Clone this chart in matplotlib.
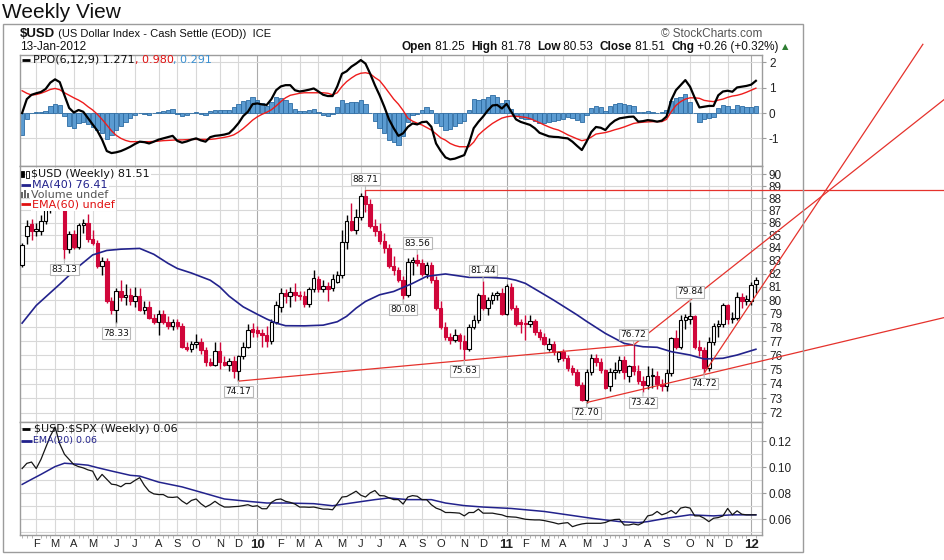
import numpy as np
import pandas as pd
import matplotlib
matplotlib.use("Agg")
import matplotlib.pyplot as plt
from matplotlib.patches import Rectangle
from matplotlib.lines import Line2D
from matplotlib.ticker import FixedLocator, FixedFormatter, NullLocator, NullFormatter

plt.rcParams['font.family'] = ['Liberation Sans', 'DejaVu Sans']

W, H = 945, 560

# weekly bars, dated by the Friday of each week
weeks = pd.date_range("2009-01-16", "2012-01-13", freq="W-FRI")

opens = [
    82.7, 84.9, 85.9, 85.3, 85.3, 86.1, 87.2, 87.9, 88.9, 87.6,
    83.9, 85.1, 84.1, 85.8, 86.0, 84.7, 84.4, 82.6, 83.0, 79.9,
    79.3, 80.7, 80.2, 80.4, 79.9, 80.3, 79.3, 79.5, 78.7, 78.4,
    79.0, 78.4, 78.1, 78.4, 78.1, 76.6, 76.45, 76.8, 76.95, 76.35,
    75.5, 75.3, 76.3, 75.5, 75.3, 75.6, 74.9, 75.9, 76.6, 77.85,
    77.8, 77.55, 77.4, 77.0, 78.4, 79.5, 80.5, 80.3, 80.6, 80.4,
    80.3, 79.7, 80.8, 81.6, 80.8, 81.1, 80.9, 81.4, 81.9, 84.5,
    86.1, 85.4, 86.5, 88.2, 87.5, 85.75, 85.35, 84.55, 84.0, 82.6,
    82.25, 81.5, 80.4, 82.9, 83.05, 82.8, 82.0, 82.7, 81.5, 79.4,
    78.05, 77.3, 77.05, 77.45, 77.0, 76.4, 78.0, 78.5, 80.4, 79.4,
    80.0, 80.4, 80.5, 79.0, 81.0, 79.4, 78.4, 78.3, 78.2, 78.45,
    77.65, 77.3, 76.45, 76.8, 75.7, 76.25, 75.77, 75.1, 74.83, 73.9,
    72.9, 74.8, 75.8, 75.5, 74.95, 73.8, 74.8, 74.95, 75.65, 74.5,
    75.2, 74.85, 74.15, 73.9, 74.5, 74.5, 74.0, 73.8, 74.7, 77.2,
    76.6, 78.5, 78.6, 78.8, 76.6, 76.35, 75.06, 76.95, 78.06, 78.2,
    79.66, 78.6, 78.7, 80.2, 79.9, 79.9, 81.25]
highs = [
    84.4, 86.2, 86.3, 86.0, 86.6, 87.6, 88.2, 89.6, 89.3, 87.9,
    85.3, 85.4, 86.0, 86.3, 86.7, 85.4, 84.6, 83.3, 83.2, 80.2,
    80.9, 81.5, 81.2, 80.9, 81.0, 80.9, 79.9, 79.9, 79.0, 79.3,
    79.3, 78.8, 78.6, 78.6, 78.3, 76.9, 77.0, 77.5, 77.2, 76.6,
    75.8, 76.9, 76.9, 75.9, 75.8, 75.9, 76.0, 76.9, 78.2, 78.3,
    78.1, 77.9, 78.1, 78.6, 79.9, 80.9, 80.8, 81.0, 81.3, 80.7,
    80.7, 81.0, 82.3, 81.8, 81.5, 81.4, 82.0, 82.2, 85.4, 86.6,
    87.6, 87.1, 88.4, 88.71, 87.9, 86.3, 86.0, 85.2, 84.3, 83.4,
    82.5, 81.8, 83.2, 83.3, 83.56, 83.1, 82.9, 82.9, 81.8, 79.9,
    78.4, 77.6, 77.9, 77.6, 77.4, 78.2, 78.9, 80.5, 81.44, 80.2,
    80.6, 80.7, 80.9, 81.2, 81.3, 79.6, 78.6, 78.9, 78.9, 78.6,
    77.9, 77.6, 77.2, 77.0, 76.3, 76.4, 76.0, 75.3, 75.0, 74.1,
    75.0, 76.1, 76.1, 75.8, 75.0, 75.1, 75.5, 75.9, 75.9, 75.3,
    76.72, 75.3, 74.5, 75.2, 75.1, 74.9, 74.3, 75.0, 77.3, 77.8,
    78.9, 78.95, 79.84, 78.9, 77.1, 76.6, 77.3, 78.3, 78.5, 79.8,
    79.7, 79.1, 80.6, 80.5, 80.4, 81.4, 81.78]
lows = [
    82.5, 84.3, 84.6, 84.9, 85.0, 85.9, 86.8, 87.6, 87.2, 83.13,
    83.6, 83.9, 83.9, 85.2, 84.5, 84.2, 82.4, 81.9, 79.8, 79.0,
    78.33, 79.9, 79.6, 79.6, 79.5, 79.2, 79.0, 78.6, 78.2, 77.4,
    78.2, 77.9, 77.8, 77.9, 76.5, 76.3, 76.2, 76.5, 76.1, 75.2,
    75.2, 75.2, 75.0, 75.2, 74.9, 74.4, 74.17, 75.7, 76.5, 77.3,
    77.3, 76.6, 76.6, 76.8, 78.2, 79.1, 79.8, 79.5, 79.9, 80.0,
    79.5, 79.5, 80.6, 80.6, 80.6, 79.9, 80.7, 81.3, 81.7, 83.9,
    85.3, 85.1, 86.2, 86.9, 85.6, 84.9, 84.3, 83.6, 82.4, 81.9,
    81.4, 80.08, 80.2, 81.9, 82.6, 81.8, 81.7, 81.3, 79.3, 77.9,
    77.1, 76.8, 76.9, 76.4, 75.63, 76.3, 77.9, 78.3, 79.3, 78.9,
    79.7, 80.0, 78.9, 78.9, 79.3, 78.1, 77.6, 77.1, 78.0, 77.4,
    77.1, 76.7, 76.3, 76.0, 75.5, 75.6, 74.9, 74.6, 73.8, 72.8,
    72.70, 74.6, 75.2, 74.7, 73.6, 73.5, 74.3, 74.7, 74.3, 74.1,
    74.6, 74.0, 73.42, 73.6, 73.7, 73.6, 73.5, 73.5, 74.5, 76.4,
    76.4, 77.9, 78.2, 76.4, 75.9, 74.72, 74.9, 76.7, 77.3, 78.0,
    78.2, 78.3, 78.5, 79.4, 79.6, 79.6, 80.53]
closes = [
    84.2, 85.7, 85.3, 85.5, 86.1, 87.2, 87.9, 88.9, 87.6, 83.9,
    85.1, 84.1, 85.8, 86.0, 84.7, 84.4, 82.6, 83.0, 79.9, 79.3,
    80.7, 80.2, 80.4, 79.9, 80.3, 79.3, 79.5, 78.7, 78.4, 79.0,
    78.35, 78.1, 78.35, 78.1, 76.6, 76.45, 76.8, 76.95, 76.35, 75.5,
    75.3, 76.3, 75.5, 75.3, 75.6, 74.9, 75.9, 76.6, 77.8, 77.65,
    77.55, 77.4, 77.0, 78.4, 79.6, 80.5, 80.3, 80.6, 80.4, 80.3,
    79.7, 80.8, 81.7, 80.8, 81.1, 80.8, 81.6, 81.9, 84.5, 86.1,
    85.4, 86.5, 88.2, 87.5, 85.75, 85.35, 84.55, 84.0, 82.6, 82.25,
    81.5, 80.4, 82.9, 83.05, 82.8, 82.0, 82.7, 81.5, 79.4, 78.05,
    77.3, 77.05, 77.45, 77.0, 76.4, 78.0, 78.5, 80.4, 79.4, 80.0,
    80.4, 80.5, 79.0, 81.05, 79.4, 78.2, 78.2, 78.2, 78.45, 77.65,
    77.3, 76.8, 76.8, 76.25, 76.25, 75.77, 75.06, 74.83, 73.9, 72.9,
    74.8, 75.8, 75.5, 74.95, 73.7, 74.8, 74.95, 75.65, 74.8, 75.2,
    74.85, 74.15, 73.9, 74.5, 74.6, 74.0, 73.8, 74.7, 77.2, 76.6,
    78.5, 78.75, 78.85, 76.6, 76.35, 75.06, 76.95, 78.06, 78.2, 79.66,
    78.6, 78.7, 80.2, 79.9, 80.1, 81.14, 81.51]

# PPO(6,12,9) line and its signal line
ppo = [
    0.00, 0.55, 0.72, 0.78, 0.83, 0.95, 1.20, 1.33, 1.22, 0.70,
    0.20, 0.02, 0.12, 0.05, -0.20, -0.45, -0.70, -1.05, -1.50, -1.58,
    -1.55, -1.50, -1.42, -1.33, -1.22, -1.13, -1.15, -1.20, -1.13, -1.05,
    -1.00, -0.95, -0.90, -1.10, -1.17, -1.12, -1.05, -1.00, -1.08, -1.13,
    -0.95, -0.90, -0.88, -0.85, -0.80, -0.62, -0.40, -0.12, 0.05, 0.35,
    0.38, 0.34, 0.32, 0.55, 0.90, 1.05, 1.10, 1.10, 0.90, 0.85,
    0.88, 0.92, 0.97, 0.85, 0.72, 0.67, 0.67, 1.05, 1.55, 1.65,
    1.83, 1.95, 2.09, 1.95, 1.55, 1.10, 0.70, 0.25, -0.25, -0.60,
    -0.90, -0.80, -0.55, -0.41, -0.45, -0.36, -0.34, -0.54, -1.20, -1.50,
    -1.75, -1.83, -1.80, -1.73, -1.66, -1.20, -0.60, -0.35, -0.14, 0.10,
    0.30, 0.32, 0.18, 0.36, 0.05, -0.25, -0.35, -0.41, -0.47, -0.60,
    -0.78, -0.85, -0.92, -0.94, -0.95, -0.98, -1.00, -1.13, -1.30, -1.46,
    -1.13, -0.75, -0.55, -0.58, -0.67, -0.45, -0.30, -0.21, -0.18, -0.15,
    -0.14, -0.34, -0.32, -0.28, -0.30, -0.34, -0.30, -0.14, 0.51, 0.90,
    1.10, 1.30, 1.04, 0.60, 0.22, 0.25, 0.28, 0.28, 0.70, 0.85,
    0.88, 0.84, 1.01, 1.04, 1.07, 1.12, 1.271]
ppo_signal = [
    0.88, 0.78, 0.71, 0.73, 0.78, 0.85, 0.93, 0.97, 0.92, 0.80,
    0.70, 0.60, 0.51, 0.40, 0.25, 0.12, -0.05, -0.25, -0.47, -0.70,
    -0.88, -1.00, -1.08, -1.13, -1.13, -1.13, -1.13, -1.13, -1.12, -1.11,
    -1.09, -1.08, -1.07, -1.06, -1.06, -1.05, -1.04, -1.04, -1.04, -1.04,
    -1.04, -1.02, -0.99, -0.96, -0.92, -0.86, -0.75, -0.61, -0.45, -0.28,
    -0.15, -0.05, 0.03, 0.13, 0.28, 0.45, 0.60, 0.70, 0.74, 0.78,
    0.80, 0.80, 0.80, 0.80, 0.80, 0.78, 0.72, 0.80, 1.05, 1.24,
    1.38, 1.50, 1.57, 1.59, 1.55, 1.40, 1.28, 1.05, 0.80, 0.55,
    0.35, 0.10, -0.20, -0.32, -0.40, -0.47, -0.57, -0.67, -0.82, -0.98,
    -1.07, -1.20, -1.28, -1.33, -1.33, -1.33, -1.15, -0.87, -0.70, -0.55,
    -0.41, -0.30, -0.20, -0.15, -0.12, -0.13, -0.15, -0.17, -0.22, -0.30,
    -0.38, -0.47, -0.55, -0.62, -0.67, -0.76, -0.86, -0.94, -1.02, -1.09,
    -1.05, -0.95, -0.83, -0.80, -0.77, -0.72, -0.66, -0.61, -0.55, -0.48,
    -0.41, -0.38, -0.36, -0.35, -0.34, -0.34, -0.34, -0.25, 0.05, 0.30,
    0.45, 0.55, 0.60, 0.60, 0.58, 0.50, 0.47, 0.45, 0.51, 0.55,
    0.62, 0.67, 0.70, 0.75, 0.82, 0.90, 0.980]

# $USD:$SPX ratio
ratio = [
    0.099, 0.103, 0.104, 0.099, 0.106, 0.115, 0.124, 0.131, 0.118, 0.110,
    0.106, 0.102, 0.1005, 0.0995, 0.098, 0.097, 0.090, 0.0945, 0.0907, 0.087,
    0.0865, 0.085, 0.0875, 0.0875, 0.0899, 0.092, 0.086, 0.0815, 0.0795, 0.079,
    0.079, 0.077, 0.0768, 0.0772, 0.074, 0.0717, 0.0745, 0.0756, 0.072, 0.0694,
    0.0712, 0.0738, 0.0712, 0.0694, 0.0694, 0.0697, 0.0699, 0.0705, 0.0712, 0.0699,
    0.0704, 0.0681, 0.0681, 0.073, 0.0751, 0.0756, 0.0738, 0.073, 0.0717, 0.0694,
    0.0694, 0.0692, 0.0694, 0.0686, 0.0678, 0.0678, 0.0673, 0.072, 0.0771, 0.0775,
    0.0795, 0.0816, 0.0785, 0.0771, 0.0803, 0.0821, 0.0782, 0.078, 0.0765, 0.0751,
    0.0751, 0.0717, 0.0771, 0.0782, 0.0777, 0.0751, 0.0751, 0.0712, 0.0686, 0.0673,
    0.0652, 0.0652, 0.0650, 0.0647, 0.0626, 0.0652, 0.0652, 0.0678, 0.0647, 0.0647,
    0.0647, 0.0640, 0.0634, 0.0621, 0.0618, 0.0616, 0.0608, 0.0600, 0.0597, 0.0595,
    0.0595, 0.0590, 0.0582, 0.0574, 0.0564, 0.0570, 0.0574, 0.0543, 0.0555, 0.0564,
    0.0569, 0.0569, 0.0569, 0.0569, 0.0575, 0.0590, 0.0598, 0.0600, 0.0556, 0.0556,
    0.0564, 0.0556, 0.0574, 0.0626, 0.0634, 0.0660, 0.0634, 0.0647, 0.0668, 0.0642,
    0.0686, 0.0694, 0.0686, 0.0626, 0.0626, 0.0608, 0.0582, 0.0608, 0.0613, 0.0626,
    0.0683, 0.0634, 0.0665, 0.0639, 0.0634, 0.0634, 0.0634]

# smooth overlays read at fewer weeks (week number, value)
ma40_week = [0, 3, 8, 12, 15, 18, 21, 25, 28, 31, 33, 36, 40, 42, 44, 47, 50,
             52, 54, 56, 60, 64, 67, 69, 71, 73, 76, 79, 83, 86, 90, 95, 99,
             103, 105, 107, 110, 113, 116, 118, 120, 124, 128, 132, 135, 138,
             142, 145, 149, 152, 156]
ma40_val = [78.3, 79.6, 81.2, 82.55, 83.45, 83.8, 83.9, 83.96, 83.5, 82.8,
            82.4, 82.05, 81.5, 81.0, 80.3, 79.5, 78.95, 78.6, 78.3, 78.11,
            78.1, 78.15, 78.4, 78.8, 79.4, 79.9, 80.4, 80.65, 81.26, 81.8,
            81.98, 81.72, 81.72, 81.65, 81.5, 81.26, 80.63, 80.0, 79.34, 78.9,
            78.43, 77.55, 76.83, 76.59, 76.55, 76.24, 76.0, 75.72, 75.77,
            76.0, 76.41]
ema20_week = [0, 2, 4, 7, 9, 12, 14, 16, 19, 23, 25, 29, 34, 38, 43, 48, 52,
              56, 62, 66, 70, 75, 78, 82, 87, 90, 94, 98, 104, 111, 116, 121,
              127, 131, 133, 137, 142, 147, 151, 156]
ema20_val = [0.0868, 0.0907, 0.0945, 0.1005, 0.1031, 0.1023, 0.1016, 0.0997,
             0.0971, 0.0938, 0.0932, 0.0886, 0.0849, 0.0808, 0.0756, 0.0738,
             0.0725, 0.0725, 0.072, 0.0704, 0.0725, 0.0751, 0.0764, 0.0751,
             0.0751, 0.0725, 0.0705, 0.0694, 0.0683, 0.066, 0.0634, 0.0608,
             0.0582, 0.0574, 0.0582, 0.0608, 0.0634, 0.0626, 0.0634, 0.0634]

# annotated highs / lows: week number, price, side of the label
peaks = [(9, 83.13, "below"), (20, 78.33, "below"), (46, 74.17, "below"),
         (73, 88.71, "above"), (81, 80.08, "below"), (84, 83.56, "above"),
         (94, 75.63, "below"), (98, 81.44, "above"), (120, 72.70, "below"),
         (130, 76.72, "above"), (132, 73.42, "below"), (142, 79.84, "above"),
         (145, 74.72, "below")]

# hand drawn trend lines: (week, price) -> (week, price)
trendlines = [((73, 88.71), (196.2, 88.71)),
              ((46, 74.17), (130, 76.72)),
              ((120, 72.70), (196.2, 78.72)),
              ((130, 76.72), (196.2, 96.55)),
              ((145, 74.72), (191.5, 101.6))]

idx = np.arange(len(weeks))
month_pos = [i for i in range(1, len(weeks)) if weeks[i].month != weeks[i - 1].month]
month_lbl = [str(weeks[i].year)[2:] if weeks[i].month == 1 else "JFMAMJJASOND"[weeks[i].month - 1]
             for i in month_pos]

RED = "#d0063a"
NAVY = "#22228c"
GRID = "#d8d8d8"
YEARC = "#ababab"
EDGE = "#9c9c9c"
TREND = "#e5322c"

fig = plt.figure(figsize=(W / 100, H / 100), dpi=100)
fig.patch.set_facecolor("white")


def fx(x):
    return x / W


def fy(y):
    return 1 - y / H


def px_box(x0, y0, x1, y1):
    return [fx(x0), fy(y1), (x1 - x0) / W, (y1 - y0) / H]


ax_ppo = fig.add_axes(px_box(20, 55, 762, 166))
ax = fig.add_axes(px_box(20, 166, 762, 422))
ax_r = fig.add_axes(px_box(20, 422, 762, 535))

for a in (ax_ppo, ax, ax_r):
    a.set_xlim(-0.45, 157.3)
    for s in a.spines.values():
        s.set_color(EDGE)
        s.set_linewidth(1)
    a.yaxis.tick_right()
    a.tick_params(axis="y", which="major", direction="out", length=3, width=0.8,
                  color=EDGE, labelsize=8.5, pad=2, labelcolor="#222")
    a.tick_params(axis="y", which="minor", length=0)
    a.tick_params(axis="x", which="both", bottom=False, labelbottom=False)
    for i in month_pos:
        a.axvline(i, color=YEARC if weeks[i].month == 1 else GRID, lw=0.8, zorder=0)
    a.grid(axis="y", which="both", color=GRID, lw=0.8)
    a.set_axisbelow(True)

# ---- PPO panel
ppo_a = np.array(ppo)
sig_a = np.array(ppo_signal)
ax_ppo.bar(idx, ppo_a - sig_a, width=0.92, color="#5b9bd1", edgecolor="#2d6ca3",
           linewidth=0.6, zorder=2)
ax_ppo.plot(idx, sig_a, color="#ee1c1c", lw=1.0, zorder=3)
ax_ppo.plot(idx, ppo_a, color="black", lw=1.6, zorder=4)
ax_ppo.set_ylim(-2.09, 2.29)
ax_ppo.yaxis.set_major_locator(FixedLocator([2, 1, 0, -1]))
ax_ppo.yaxis.set_major_formatter(FixedFormatter(["2", "1", "0", "-1"]))

# ---- price panel
o = np.array(opens)
c = np.array(closes)
up = c >= o
body_lo = np.minimum(o, c)
body_h = np.maximum(np.abs(c - o), 0.05)
ax.vlines(idx, lows, highs, colors=np.where(up, "black", RED), lw=1, zorder=3)
ax.bar(idx, body_h, bottom=body_lo, width=0.74, color=np.where(up, "white", RED),
       edgecolor=np.where(up, "black", RED), linewidth=0.8, zorder=4)
ax.set_yscale("log")
ax.set_ylim(71.39, 90.68)
yt = list(range(72, 91))
ax.yaxis.set_major_locator(FixedLocator(yt))
ax.yaxis.set_major_formatter(FixedFormatter([str(t) for t in yt]))
ax.yaxis.set_minor_locator(NullLocator())
ax.yaxis.set_minor_formatter(NullFormatter())
ax.plot(ma40_week, ma40_val, color=NAVY, lw=1.2, zorder=5)

for (x0, y0), (x1, y1) in trendlines:
    ax.plot([x0, x1], [y0, y1], color=TREND, lw=0.9, clip_on=False, zorder=6)

for wk, val, side in peaks:
    off = 7.5 if side == "above" else -7.5
    ax.annotate(f"{val:.2f}", xy=(wk, val), xytext=(0, off), textcoords="offset points",
                ha="center", va="center", fontsize=6.5, family="DejaVu Sans", color="#111",
                bbox=dict(boxstyle="square,pad=0.15", fc="white", ec="#b8b8b8", lw=0.8),
                arrowprops=dict(arrowstyle="-", color="#b8b8b8", lw=0.8, shrinkA=0, shrinkB=0),
                zorder=7, annotation_clip=False)

# ---- ratio panel
ax_r.plot(idx, ratio, color="#151515", lw=0.9, zorder=3)
ax_r.plot(ema20_week, ema20_val, color=NAVY, lw=1.1, zorder=2)
ax_r.set_ylim(0.0479, 0.1348)
ax_r.yaxis.set_major_locator(FixedLocator([0.06, 0.08, 0.10, 0.12]))
ax_r.yaxis.set_major_formatter(FixedFormatter(["0.06", "0.08", "0.10", "0.12"]))
ax_r.yaxis.set_minor_locator(FixedLocator([0.05, 0.07, 0.09, 0.11, 0.13]))
ax_r.yaxis.set_minor_formatter(NullFormatter())
ax_r.set_xticks(month_pos)
ax_r.set_xticklabels(month_lbl)
ax_r.set_xticks(idx, minor=True)
ax_r.tick_params(axis="x", which="major", bottom=True, labelbottom=True, length=0,
                 pad=3, labelsize=8, labelcolor="#222")
ax_r.tick_params(axis="x", which="minor", bottom=True, length=2, width=0.6, color="#aaaaaa")
for lbl in ax_r.get_xticklabels():
    if lbl.get_text().isdigit():
        lbl.set_fontweight("bold")
        lbl.set_fontsize(9.5)

# ---- texts
renderer = fig.canvas.get_renderer()


def chain(parts, x, y, **common):
    for s, kw in parts:
        t = fig.text(fx(x), fy(y), s, va="center", ha="left", **{**common, **kw})
        x += t.get_window_extent(renderer).width
    return x


def dash(x0, x1, y, color, lw=2.0):
    fig.add_artist(Line2D([fx(x0), fx(x1)], [fy(y), fy(y)], transform=fig.transFigure,
                          color=color, lw=lw, solid_capstyle="butt"))


fig.text(fx(2), fy(12), "Weekly View", fontsize=15, va="center", ha="left", color="#111")
fig.add_artist(Rectangle((fx(3), fy(552)), 800 / W, 528 / H, transform=fig.transFigure,
                         fill=False, ec=EDGE, lw=1))
chain([("\\$USD", dict(fontweight="bold", fontsize=9.5)),
       (" (US Dollar Index - Cash Settle (EOD))  ICE", dict(fontsize=8))],
      20, 34, color="#111")
fig.text(fx(20), fy(47), "13-Jan-2012", fontsize=8.5, va="center", color="#111")
fig.text(fx(762), fy(34), "\u00a9 StockCharts.com", fontsize=8.5, va="center", ha="right",
         color="#555555")
b = dict(fontweight="bold")
n = dict()
xe = chain([("Open", b), (" 81.25  ", n), ("High", b), (" 81.78  ", n), ("Low", b),
            (" 80.53  ", n), ("Close", b), (" 81.51  ", n), ("Chg", b),
            (" +0.26 (+0.32%) ", n)], 402, 47, fontsize=8.5, color="#111")
fig.text(fx(xe), fy(47), "\u25b2", fontsize=6, va="center", ha="left", color="#2e7d32",
         family="DejaVu Sans")

# panel legends
leg = dict(family="DejaVu Sans", fontsize=8)
dash(22, 30, 60, "black")
chain([("PPO(6,12,9) 1.271", dict(color="#111")), (", 0.980", dict(color="#e01010")),
       (", 0.291", dict(color="#3a8fd0"))], 33, 60, **leg)

wbox = dict(boxstyle="square,pad=0.1", fc="white", ec="none")
fig.add_artist(Rectangle((fx(21), fy(177)), 3 / W, 6 / H, transform=fig.transFigure,
                         fc="black", ec="black", lw=0.6))
fig.add_artist(Rectangle((fx(26), fy(178)), 3 / W, 7 / H, transform=fig.transFigure,
                         fc="white", ec="black", lw=0.6))
fig.text(fx(31), fy(174), "\\$USD (Weekly) 81.51", va="center", color="#111",
         family="DejaVu Sans", fontsize=8, bbox=wbox)
dash(21, 31, 185, NAVY)
fig.text(fx(32), fy(185), "MA(40) 76.41", va="center", color=NAVY,
         family="DejaVu Sans", fontsize=8, bbox=wbox)
for k, hgt in enumerate([6, 8, 5]):
    fig.add_artist(Rectangle((fx(21 + 3 * k), fy(198)), 2 / W, hgt / H,
                             transform=fig.transFigure, fc="#666666", ec="none"))
fig.text(fx(31), fy(194.5), "Volume undef", va="center", color="#555555",
         family="DejaVu Sans", fontsize=8, bbox=wbox)
dash(21, 31, 204.5, "#e01010")
fig.text(fx(32), fy(204.5), "EMA(60) undef", va="center", color="#e01010",
         family="DejaVu Sans", fontsize=8, bbox=wbox)

dash(22, 30, 429, "black")
fig.text(fx(34), fy(429), "\\$USD:\\$SPX (Weekly) 0.06", va="center", color="#111",
         family="DejaVu Sans", fontsize=8)
dash(21, 32, 441, NAVY)
fig.text(fx(33), fy(441), "EMA(20) 0.06", va="center", color=NAVY,
         family="DejaVu Sans", fontsize=6.8)

fig.savefig("out.png", dpi=100)
